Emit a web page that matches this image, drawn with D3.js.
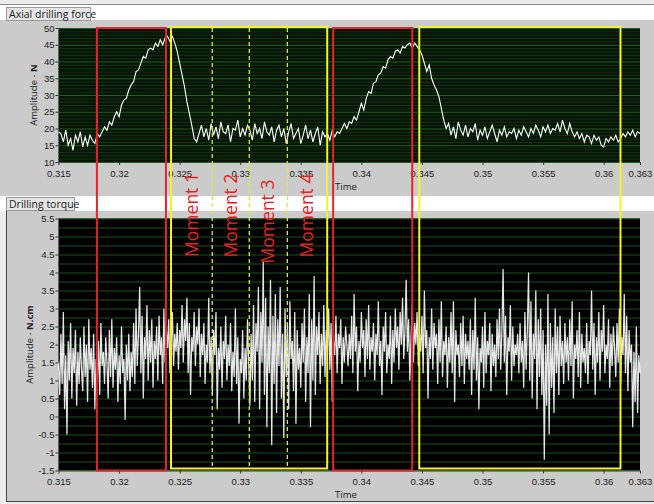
<!DOCTYPE html>
<html><head><meta charset="utf-8">
<script src="https://cdn.jsdelivr.net/npm/d3@7"></script>
<style>html,body{margin:0;padding:0;background:#f0f0f0;}svg{display:block;}</style>
</head><body>
<script>
// ---------- DATA ----------
const tStart = 0.315, tEnd = 0.363;
const xTickValues = [0.315,0.32,0.325,0.33,0.335,0.34,0.345,0.35,0.355,0.36,0.363];
const xTickLabels = ["0.315","0.32","0.325","0.33","0.335","0.34","0.345","0.35","0.355","0.36","0.363"];
const forceTicks = [10,15,20,25,30,35,40,45,50];
const torqueTicks = [-1.5,-1,-0.5,0,0.5,1,1.5,2,2.5,3,3.5,4,4.5,5,5.5];
const torqueTickLabels = ["-1.5","-1","-0.5","0","0.5","1","1.5","2","2.5","3","3.5","4","4.5","5","5.5"];

// Axial drilling force (N), evenly sampled over 0.315..0.363 s
const force = [
 19,18.5,16,19.5,15,17,13.5,18,16,19,14.5,17.5,15,18,16.5,15.5,
 18.5,17.5,19,20.5,19.5,22,21,23.5,25,23.5,27,28.5,29,31.5,
 33,34,37,37.5,39.5,41.5,41,43.5,44,43.5,45.5,44.5,46.5,45,47,47.5,46,47.5,45.5,43,
 39.5,36,32.5,28,24.5,21,17,16,18.5,21,17.5,
 20,16.5,21.5,18,20.5,17,22,19,18.5,21,16,20,19.5,22.5,17.5,20,18,21,19.5,16.5,
 21.5,18.5,20,17,22,19,18,20.5,16,19.5,21,17.5,20,15.5,19,21.5,17,18.5,20,15.5,
 18,21,17,19.5,16,18.5,20.5,15,19,17.5,18.5,16.5,19.5,
 17.5,19,18.5,20,21.5,20,22,21.5,23.5,22.5,25,27.5,25.5,29,31,30.5,33.5,34,36,36.5,
 38.5,38,40.5,41.5,41,43,43.5,42.5,44.5,44,45,45.5,44,45.5,44.5,43.5,42,39.5,37,39,
 35,33,31.5,29.5,26,22.5,20,
 21.5,18,20.5,17,22,19.5,18,21,17.5,20,19,21.5,16.5,19.5,18,20.5,17,19,21,18.5,
 16,19.5,18,20.5,17.5,19,18.5,20,17,19.5,18,20.5,19,17.5,20,18.5,21,19.5,17.5,20.5,
 19,21,18.5,20,19.5,
 21.5,19,22.5,20,18.5,21.5,19,17.5,
 19,17,18.5,16,18,17.5,15.5,18,16.5,17.5,15,14.5,17,16,17.5,16.5,18,16,17,
 18.5,17.5,19,18,19.5,17.5,19,18.5
];

// Drilling torque (N.cm), evenly sampled over 0.315..0.363 s
const torque = [
 1.5,0.6,2.3,0.9,2.9,0.2,1.7,-0.5,2.1,1.0,2.6,0.5,1.9,1.2,2.4,0.3,1.8,0.9,2.2,1.3,
 0.7,2.5,1.1,2.0,0.4,2.7,1.3,1.9,0.8,2.3,0.2,1.6,1.0,2.1,0.6,2.6,1.4,1.8,0.9,2.2,
 1.5,0.5,2.4,1.1,2.7,0.8,1.9,1.3,2.2,0.4,1.7,0.9,2.5,1.2,1.6,-0.1,2.0,1.0,2.3,0.7,
 1.8,1.1,2.6,0.9,3.0,1.4,2.3,3.6,1.2,2.8,0.5,2.2,1.6,3.1,1.0,2.4,1.5,2.7,0.8,2.1,
 1.6,2.5,1.0,2.8,1.7,2.2,0.9,3.0,1.5,2.4,1.9,2.7,1.2,2.0,2.9,1.4,2.3,1.8,2.6,1.3,
 2.4,1.9,3.1,1.5,2.7,2.1,3.3,1.2,2.6,0.6,2.2,1.8,2.9,1.4,2.5,2.0,3.0,1.1,2.3,1.7,
 2.6,0.9,2.0,1.5,3.3,1.2,2.2,0.6,2.4,1.7,2.9,0.2,1.9,1.3,2.5,0.8,2.1,1.6,2.8,1.0,
 2.0,1.4,2.6,0.7,1.8,1.1,3.0,0.9,2.2,-0.2,1.6,1.2,2.4,0.5,1.9,1.0,2.7,1.5,0.3,2.3,
 1.0,3.1,0.4,2.6,1.8,3.6,0.2,2.9,1.5,4.3,0.6,3.3,-0.3,2.5,1.2,3.8,-0.8,2.8,0.9,3.4,
 0.1,2.7,1.4,3.6,0.5,2.3,-0.6,3.0,1.1,2.6,0.2,3.2,1.6,2.1,0.7,2.9,-0.2,2.4,1.3,1.9,
 0.8,2.6,1.5,3.0,0.4,2.2,1.2,3.4,-0.3,2.7,1.0,3.9,0.6,2.5,1.7,2.9,0.9,2.3,1.4,3.1,
 1.1,2.4,1.8,3.0,1.3,2.6,0.4,2.1,1.7,2.8,1.2,2.3,1.9,2.7,0.9,2.2,1.5,2.5,2.0,1.4,
 2.3,1.6,2.8,1.2,3.4,1.8,2.5,0.7,2.1,1.5,2.9,1.9,2.4,1.1,2.7,1.6,3.1,1.3,2.2,1.8,
 2.6,1.0,2.3,1.7,3.2,1.4,2.1,0.6,2.5,1.8,2.9,1.2,2.0,1.6,2.8,0.9,2.4,1.5,3.0,1.9,
 2.5,1.3,2.9,2.0,3.3,1.6,2.4,3.8,1.8,2.7,1.0,2.2,3.1,1.5,2.6,2.0,2.9,1.4,2.3,1.8,
 2.8,1.2,3.5,1.9,2.4,0.5,2.2,1.6,3.0,1.3,2.6,1.9,2.3,0.9,2.7,1.5,3.2,1.1,2.1,1.7,
 2.5,0.8,2.2,1.5,2.9,1.2,3.2,0.4,2.4,1.7,2.0,1.1,2.6,1.4,2.8,0.9,2.3,1.6,2.1,1.3,
 2.7,0.6,2.4,1.3,3.3,1.0,2.2,0.2,1.9,1.5,2.5,0.8,2.9,1.2,2.1,1.7,2.6,0.7,2.3,1.4,
 2.0,1.1,2.7,1.6,3.0,1.3,2.4,4.1,1.5,2.8,0.6,2.2,1.8,3.1,1.0,2.5,1.4,2.0,1.7,2.3,
 1.2,2.6,1.5,2.1,0.8,2.9,1.3,2.4,4.0,1.0,3.2,0.5,2.3,1.6,3.5,0.2,2.7,1.1,3.0,0.6,
 2.4,-1.2,2.0,0.3,3.4,-0.5,2.6,0.8,2.2,0.1,3.0,1.2,2.5,0.6,2.8,1.4,2.1,0.9,2.6,1.5,
 2.2,1.0,2.7,1.4,3.2,0.5,2.0,1.6,2.4,1.1,2.9,0.8,2.3,1.5,1.9,1.2,2.6,0.9,2.1,1.7,
 3.5,1.3,2.6,0.6,2.2,1.5,2.9,1.0,2.4,1.8,3.1,1.2,2.0,1.6,2.7,0.8,2.3,1.4,2.5,1.9,
 1.1,2.6,1.5,3.0,0.9,2.2,1.7,3.4,1.2,2.8,0.7,2.4,1.5,2.0,-0.3,1.8,0.4,2.5,0.1,1.7,
 1.2
];

// Highlight windows (time, s)
const redWindows = [[0.31817,0.32387],[0.33767,0.34420]];
const yellowWindows = [[0.32429,0.33718],[0.34478,0.36139]];
const momentLines = [0.32769,0.33075,0.33389];
const momentLabels = ["Moment 1","Moment 2","Moment 3","Moment 4"];

// ---------- DRAW ----------
const W = 654, H = 504;
const svg = d3.select("body").append("svg").attr("width", W).attr("height", H);
const x = d3.scaleLinear().domain([tStart, tEnd]).range([58.5, 640]);
const yF = d3.scaleLinear().domain([10, 50]).range([162, 28]);
const yT = d3.scaleLinear().domain([-1.5, 5.5]).range([470.5, 218.5]);
const font = "'Open Sans', 'DejaVu Sans', sans-serif";
const tickFont = "'Liberation Sans', Arial, sans-serif";

svg.append("rect").attr("width", W).attr("height", H).attr("fill", "#ececec");
// white header strips
svg.append("rect").attr("x", 0).attr("y", 4).attr("width", W).attr("height", 16).attr("fill", "#ffffff");
svg.append("rect").attr("x", 0).attr("y", 196).attr("width", W).attr("height", 15).attr("fill", "#ffffff");
svg.append("line").attr("x1", 0).attr("x2", W).attr("y1", 4.5).attr("y2", 4.5).attr("stroke", "#8a8a8a");
// panels
svg.append("rect").attr("x", 0).attr("y", 20).attr("width", W).attr("height", 176).attr("fill", "#cbcbcb");
svg.append("rect").attr("x", 7).attr("y", 211).attr("width", W - 7).attr("height", 290).attr("fill", "#cbcbcb");
svg.append("line").attr("x1", 6.5).attr("x2", 6.5).attr("y1", 211).attr("y2", 502).attr("stroke", "#444");
svg.append("line").attr("x1", 6.5).attr("x2", W).attr("y1", 501.5).attr("y2", 501.5).attr("stroke", "#444");

// title boxes
function titleBox(label, bx, by, bw, bh) {
  svg.append("rect").attr("x", bx + 0.5).attr("y", by + 0.5).attr("width", bw).attr("height", bh)
    .attr("fill", "#e6e6e6").attr("stroke", "#9a9a9a");
  svg.append("text").attr("x", bx + 3).attr("y", by + bh - 2.5).attr("font-family", font)
    .attr("font-size", 10.5).attr("fill", "#222").text(label);
}
titleBox("Axial drilling force", 6, 7, 84, 13);
titleBox("Drilling torque", 6, 197, 68, 13);

// plot backgrounds
svg.append("rect").attr("x", x(tStart)).attr("y", yF(50)).attr("width", x(tEnd) - x(tStart))
  .attr("height", yF(10) - yF(50)).attr("fill", "#071407");
svg.append("rect").attr("x", x(tStart)).attr("y", yT(5.5)).attr("width", x(tEnd) - x(tStart))
  .attr("height", yT(-1.5) - yT(5.5)).attr("fill", "#000");

// grids
const fGrid = d3.range(10, 51, 1);
svg.append("g").selectAll("line").data(fGrid).join("line")
  .attr("x1", x(tStart)).attr("x2", x(tEnd)).attr("y1", d => yF(d) + 0.5).attr("y2", d => yF(d) + 0.5)
  .attr("stroke", d => d % 5 === 0 ? "#1f5f1f" : "#0f3410").attr("stroke-width", 1);
const tGrid = d3.range(-1.5, 5.51, 0.25);
svg.append("g").selectAll("line").data(tGrid).join("line")
  .attr("x1", x(tStart)).attr("x2", x(tEnd)).attr("y1", d => yT(d) + 0.5).attr("y2", d => yT(d) + 0.5)
  .attr("stroke", "#1b531b").attr("stroke-width", 1);

// series
const stepF = (tEnd - tStart) / (force.length - 1);
const stepT = (tEnd - tStart) / (torque.length - 1);
const lineF = d3.line().x((d, i) => x(tStart + i * stepF)).y(d => yF(d));
const lineT = d3.line().x((d, i) => x(tStart + i * stepT)).y(d => yT(d));
svg.append("path").datum(torque).attr("d", lineT).attr("fill", "none")
  .attr("stroke", "#ffffff").attr("stroke-opacity", 0.9).attr("stroke-width", 1.25);
svg.append("path").datum(force).attr("d", lineF).attr("fill", "none")
  .attr("stroke", "#ffffff").attr("stroke-width", 1.1);

// axes
function styleAxis(g) {
  g.select(".domain").remove();
  g.selectAll(".tick line").attr("stroke", "#333");
  g.selectAll(".tick text").attr("font-family", tickFont).attr("font-size", 9.5).attr("fill", "#222");
}
svg.append("g").attr("transform", `translate(0,${yF(10)})`)
  .call(d3.axisBottom(x).tickValues(xTickValues).tickFormat((d, i) => xTickLabels[i]).tickSize(3).tickPadding(5))
  .call(styleAxis);
svg.append("g").attr("transform", `translate(0,${yT(-1.5)})`)
  .call(d3.axisBottom(x).tickValues(xTickValues).tickFormat((d, i) => xTickLabels[i]).tickSize(3).tickPadding(5))
  .call(styleAxis);
svg.append("g").attr("transform", `translate(${x(tStart)},0)`)
  .call(d3.axisLeft(yF).tickValues(forceTicks).tickSize(3).tickPadding(1))
  .call(styleAxis);
svg.append("g").attr("transform", `translate(${x(tStart)},0)`)
  .call(d3.axisLeft(yT).tickValues(torqueTicks).tickFormat((d, i) => torqueTickLabels[i]).tickSize(3).tickPadding(1))
  .call(styleAxis);

// axis titles
svg.append("text").attr("x", 346).attr("y", 190).attr("text-anchor", "middle")
  .attr("font-family", font).attr("font-size", 9.5).attr("fill", "#222").text("Time");
svg.append("text").attr("x", 346).attr("y", 498).attr("text-anchor", "middle")
  .attr("font-family", font).attr("font-size", 9.5).attr("fill", "#222").text("Time");
function yTitle(cx, cy, a, b) {
  const t = svg.append("text").attr("transform", `translate(${cx},${cy}) rotate(-90)`)
    .attr("text-anchor", "middle").attr("font-family", font).attr("font-size", 9.5).attr("fill", "#222");
  t.append("tspan").text(a);
  t.append("tspan").attr("font-weight", "bold").text(b);
}
yTitle(37, (yF(10) + yF(50)) / 2, "Amplitude - ", "N");
yTitle(33, (yT(-1.5) + yT(5.5)) / 2, "Amplitude - ", "N.cm");

// highlight windows
const winTop = yF(50), winBot = yT(-1.5);
svg.append("g").selectAll("rect").data(redWindows).join("rect")
  .attr("x", d => x(d[0])).attr("y", winTop).attr("width", d => x(d[1]) - x(d[0])).attr("height", winBot - winTop)
  .attr("fill", "none").attr("stroke", "#e8232b").attr("stroke-width", 2);
svg.append("g").selectAll("rect").data(yellowWindows).join("rect")
  .attr("x", d => x(d[0])).attr("y", winTop - 1).attr("width", d => x(d[1]) - x(d[0])).attr("height", winBot - winTop - 1)
  .attr("fill", "none").attr("stroke", "#f5f22a").attr("stroke-width", 2);
svg.append("g").selectAll("line").data(momentLines).join("line")
  .attr("x1", d => x(d)).attr("x2", d => x(d)).attr("y1", winTop).attr("y2", winBot - 2)
  .attr("stroke", "#e3e33a").attr("stroke-width", 1.3).attr("stroke-dasharray", "4,3");

// moment labels (centered between window boundaries)
const bounds = [yellowWindows[0][0], ...momentLines, yellowWindows[0][1]];
svg.append("g").selectAll("text").data(momentLabels).join("text")
  .attr("transform", (d, i) => `translate(${(x(bounds[i]) + x(bounds[i + 1])) / 2 + 6},${[215, 215.5, 221.5, 215.5][i]}) rotate(-90)`)
  .attr("text-anchor", "middle").attr("font-family", font)
  .attr("font-size", 17.5).attr("fill", "#e82020").text(d => d);
</script>
</body></html>
